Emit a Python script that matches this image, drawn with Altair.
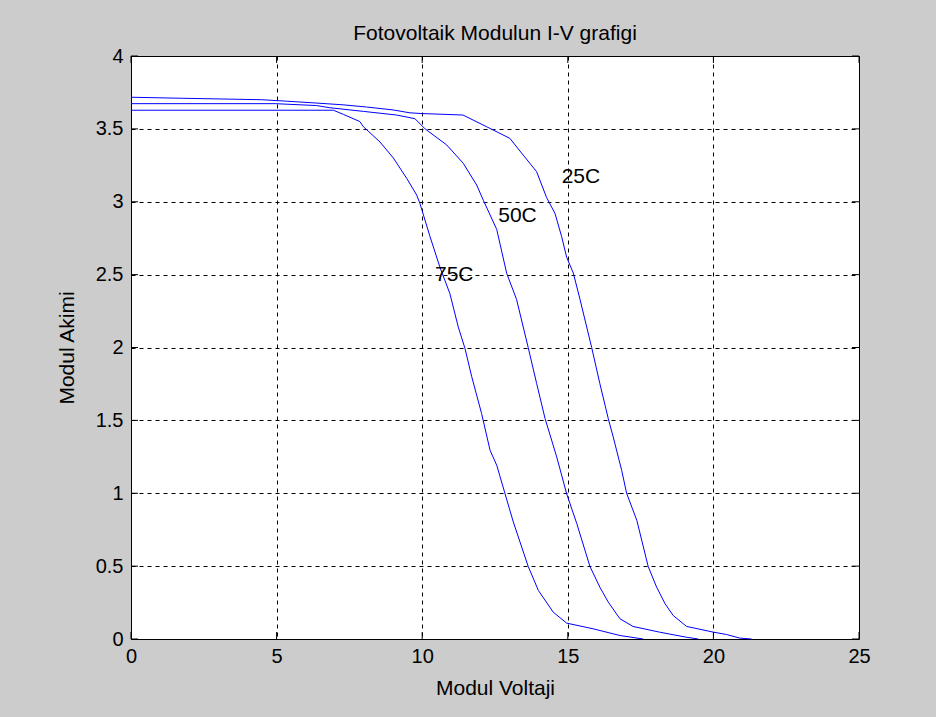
import altair as alt
import pandas as pd

# ---- data ----
v25 = [0, 1.76, 4.49, 5.34, 6.15, 7.28, 8.09, 9.0, 9.58, 10.0, 11.4, 12.21, 13.01, 13.47,
       13.93, 14.27, 14.56, 14.79, 14.96, 15.19, 15.42, 15.82, 16.1, 16.39, 16.56, 16.85,
       17.02, 17.37, 17.76, 18.05, 18.34, 18.62, 19.08, 20.0, 20.45, 20.91, 21.31]
i25 = [3.717, 3.71, 3.70, 3.69, 3.68, 3.665, 3.65, 3.63, 3.61, 3.605, 3.595, 3.515, 3.435, 3.32,
       3.206, 3.03, 2.92, 2.76, 2.62, 2.51, 2.33, 2.0, 1.753, 1.512, 1.386, 1.157,
       1.0, 0.814, 0.498, 0.356, 0.242, 0.161, 0.086, 0.047, 0.031, 0.006, 0.0]

v50 = [0, 4.95, 6.37, 6.83, 7.98, 9.12, 9.75, 10.1, 10.84, 11.41, 11.87, 12.1, 12.56, 12.9,
       13.24, 13.64, 13.93, 14.22, 14.62, 14.96, 15.31, 15.76, 16.1, 16.39, 16.79, 17.24,
       18.15, 19.08, 19.48]
i50 = [3.673, 3.673, 3.66, 3.645, 3.62, 3.595, 3.57, 3.5, 3.39, 3.264, 3.115, 3.01, 2.81, 2.51,
       2.33, 2.0, 1.753, 1.512, 1.249, 0.997, 0.791, 0.498, 0.356, 0.253, 0.139, 0.086,
       0.047, 0.012, 0.0]

v75 = [0, 6.95, 7.29, 7.86, 7.98, 8.55, 9.01, 9.47, 9.81, 9.92, 10.27, 10.61, 10.95, 11.24,
       11.47, 11.7, 12.04, 12.33, 12.56, 12.84, 13.13, 13.64, 13.99, 14.5, 14.96, 15.87,
       16.79, 17.59]
i75 = [3.628, 3.628, 3.60, 3.55, 3.515, 3.41, 3.30, 3.16, 3.046, 2.99, 2.76, 2.55, 2.37, 2.14,
       1.993, 1.80, 1.547, 1.295, 1.192, 1.0, 0.802, 0.498, 0.333, 0.184, 0.109, 0.07,
       0.024, 0.0]

label_text = ["25C", "50C", "75C"]
label_v = [14.79, 12.61, 10.44]
label_i = [3.17, 2.90, 2.50]

xticks = [0, 5, 10, 15, 20, 25]
yticks = [0, 0.5, 1, 1.5, 2, 2.5, 3, 3.5, 4]

# ---- tables ----
rows = []
for name, vs, cs in [("25C", v25, i25), ("50C", v50, i50), ("75C", v75, i75)]:
    for k, (v, c) in enumerate(zip(vs, cs)):
        rows.append({"series": name, "V": v, "I": c, "k": k})
df = pd.DataFrame(rows)
lab_df = pd.DataFrame({"V": label_v, "I": label_i, "t": label_text})
xt_df = pd.DataFrame({"V": xticks})
yt_df = pd.DataFrame({"I": yticks})

FONT = "Liberation Sans"
W, H = 728, 583

xscale = alt.Scale(domain=[0, 25], nice=False, zero=False)
yscale = alt.Scale(domain=[0, 4], nice=False, zero=False)

common_axis = dict(grid=True, gridDash=[4, 4], gridColor="black", gridOpacity=1, gridWidth=1,
                   ticks=False, domain=False, labelFont=FONT, labelFontSize=20,
                   labelColor="black", labelFlush=False, titleFont=FONT, titleFontSize=21,
                   titleFontWeight="normal", titleColor="black", format="~g")

xaxis = alt.Axis(values=xticks, title="Modul Voltaji", labelPadding=7,
                 titleX=W / 2, titleY=49, titleBaseline="middle",
                 titleAlign="center", **common_axis)
yaxis = alt.Axis(values=yticks, title="Modul Akimi", labelPadding=8,
                 titleX=-64, titleY=H / 2, titleAngle=270,
                 titleBaseline="middle", titleAlign="center", **common_axis)

X = alt.X("V:Q", scale=xscale, axis=xaxis)
Y = alt.Y("I:Q", scale=yscale, axis=yaxis)

lines = alt.Chart(df).mark_line(color="#0000ff", strokeWidth=1).encode(
    x=X, y=Y, detail="series:N", order="k:Q",
)

labels = alt.Chart(lab_df).mark_text(align="left", baseline="middle", font=FONT,
                                     fontSize=21, color="black").encode(
    x=X, y=Y, text="t:N",
)

tick_len = 7
bottom_ticks = alt.Chart(xt_df).mark_rule(color="black", strokeWidth=1).encode(
    x=X, y=alt.value(H), y2=alt.value(H - tick_len))
top_ticks = alt.Chart(xt_df).mark_rule(color="black", strokeWidth=1).encode(
    x=X, y=alt.value(0), y2=alt.value(tick_len))
left_ticks = alt.Chart(yt_df).mark_rule(color="black", strokeWidth=1).encode(
    y=Y, x=alt.value(0), x2=alt.value(tick_len))
right_ticks = alt.Chart(yt_df).mark_rule(color="black", strokeWidth=1).encode(
    y=Y, x=alt.value(W), x2=alt.value(W - tick_len))

chart = alt.layer(lines, labels, bottom_ticks, top_ticks, left_ticks, right_ticks).properties(
    width=W, height=H,
    title=alt.TitleParams("Fotovoltaik Modulun I-V grafigi", font=FONT, fontSize=21,
                          fontWeight="normal", color="black", anchor="middle",
                          frame="group", offset=2),
    autosize=alt.AutoSizeParams(type="none"),
    padding={"left": 131, "top": 56, "right": 77, "bottom": 78},
    background="#cccccc",
).configure_view(fill="white", stroke="black", strokeWidth=1)

chart.save("out.html", embed_options={"renderer": "svg", "actions": False})
